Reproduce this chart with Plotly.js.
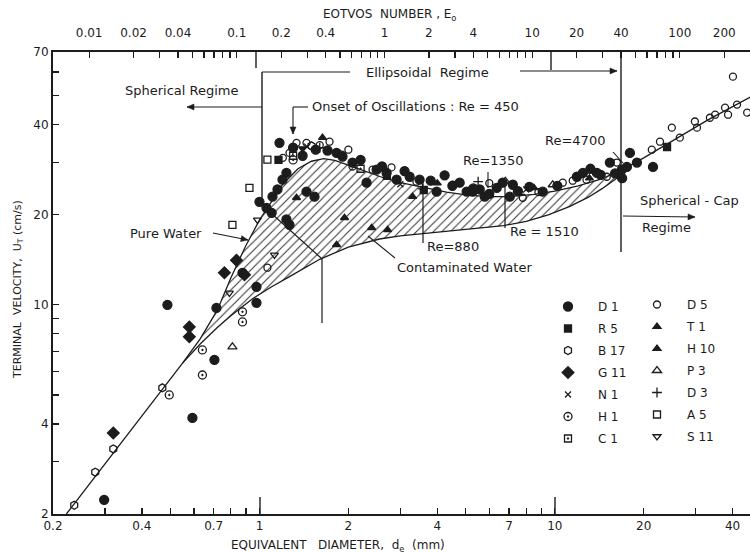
<!DOCTYPE html>
<html>
<head>
<meta charset="utf-8">
<script src="https://cdn.plot.ly/plotly-3.0.1.min.js"></script>
<style>html,body{margin:0;padding:0;background:#fff;}#chart{width:750px;height:553px;}</style>
</head>
<body>
<div id="chart"></div>
<script>
// ---------- DATA ----------
// Pure-water curve (upper boundary of hatched band), d_e in mm, U_T in cm/s
const pureD = [0.222,0.30,0.40,0.47,0.55,0.63,0.72,0.80,0.90,1.0,1.1,1.2,1.35,1.5,1.65,1.8,2.0,2.3,2.6,3.0,3.6,4.3,5.0,6.0,7.0,8.5,10,12,14.5,17.5,20,24,28,33,40,46];
const pureU = [2.0,2.94,4.25,5.22,6.4,7.7,9.6,12.3,15.8,19.2,22.3,25.3,28.5,30.2,30.8,30.4,29.3,27.8,26.7,25.6,24.6,23.8,23.3,23.0,23.0,23.4,24.0,25.0,26.4,28.8,31.0,34.5,37.8,41.5,46.0,49.5];
// Contaminated-water curve (lower boundary)
const contD = [0.55,0.63,0.72,0.80,0.95,1.1,1.26,1.45,1.6,2.0,2.55,3.0,3.6,4.5,5.5,6.7,8.0,9.5,11.2,13.0,14.5,16.2,17.5];
const contU = [6.4,7.4,8.4,9.2,10.5,11.5,12.4,13.4,14.2,15.6,16.6,17.0,17.3,17.7,18.0,18.4,19.0,20.0,21.3,22.9,24.5,26.5,28.8];

// Experimental points per source
const D1_d = [0.298,0.593,0.488,0.704,0.977,0.977,0.715,0.876,1.0,1.056,1.107,1.151,1.197,1.169,1.234,1.234,1.264,1.443,1.536,1.824,1.911,2.066,2.305,2.493,2.695,2.913,3.225,3.485,3.981,4.236,4.763,5.03,5.27,5.57,5.79,6.36,6.66,7.04,7.21,9.10,11.88,12.45,13.88,15.36,16.87,17.54,17.96,18.97,21.5,16.9,1.3,1.4,1.55,1.7,2.2,2.6,3.1,3.8,4.5,5.3,6.0,7.5,8.2,10.2,13.2,14.3,16.0,1.1];
const D1_u = [2.23,4.19,10.0,6.55,11.49,10.16,9.77,12.8,22.1,21.1,23.0,24.3,26.2,34.8,27.6,19.3,18.5,23.9,23.0,32.2,31.3,29.9,25.6,28.3,27.6,26.2,26.8,26.2,23.9,27.1,25.6,23.9,23.9,24.3,23.0,24.6,25.6,23.0,25.2,23.9,26.8,27.6,27.6,29.9,28.3,28.9,32.2,29.9,28.9,26.5,33.5,31.5,33.0,32.8,30.5,29.0,28.0,26.0,25.0,24.5,23.5,24.0,24.8,25.0,28.5,27.2,27.5,20.3];
const R5_d = [1.16,2.7,3.6,23.99];
const R5_u = [30.5,27.0,24.2,33.7];
const B17_d = [0.236,0.278,0.320,0.469,1.5];
const B17_u = [2.14,2.76,3.30,5.28,34.0];
const G11_d = [0.320,0.579,0.579,0.761,0.836,0.89];
const G11_u = [3.73,8.44,7.82,12.8,14.1,12.6];
const N1_d = [1.45,3.0,8.0];
const N1_u = [33.8,25.3,24.3];
const H1_d = [0.641,0.641,0.876,0.876,0.495,1.3];
const H1_u = [7.07,5.83,9.48,8.77,5.0,30.5];
const C1_d = [1.3,2.2];
const C1_u = [31.5,28.5];
const D5_d = [1.264,1.335,1.443,1.727,2.0,2.415,2.066,4.511,6.0,7.79,10.64,11.5,15.0,16.22,21.3,22.7,24.9,26.5,29.8,30.3,33.5,34.9,37.7,38.6,41.4,44.8,40.1,1.064,1.2,1.6,1.9,2.8,3.4,5.2,8.8,12.8];
const D5_u = [32.2,34.8,34.8,35.1,33.0,28.3,29.0,25.2,25.5,22.8,25.6,26.0,26.8,29.9,33.0,35.1,39.1,36.2,41.0,39.1,42.2,43.2,45.6,43.2,46.7,43.9,57.9,13.31,31.0,34.2,31.8,28.8,25.8,24.2,23.8,26.2];
const T1_d = [1.335,4.0,8.5,13.1];
const T1_u = [22.8,25.5,24.6,26.5];
const H10_d = [1.635,1.941,1.824,2.398,2.716,3.3];
const H10_u = [36.2,19.55,15.88,18.1,17.82,23.0];
const P3_d = [0.81,9.84,6.8];
const P3_u = [7.24,25.2,25.9];
const D3_d = [3.57,1.6,5.5];
const D3_u = [24.4,33.5,25.8];
const A5_d = [0.81,0.925,1.064];
const A5_u = [18.5,24.6,30.6];
const S11_d = [0.984,0.791,1.124,1.4];
const S11_u = [19.24,10.97,14.69,33.3];

// Tick labels
const xTickVals = [0.2,0.3,0.4,0.5,0.6,0.7,0.8,0.9,1,2,3,4,5,6,7,8,9,10,20,30,40];
const xLabelled = [0.2,0.4,0.7,1,2,4,7,10,20,40];
const yTickVals = [2,3,4,5,6,7,8,9,10,20,30,40,50,60,70];
const yLabelled = [2,4,10,20,40,70];
const eoTickVals = [0.01,0.02,0.03,0.04,0.05,0.06,0.07,0.08,0.09,0.1,0.2,0.3,0.4,0.5,0.6,0.7,0.8,0.9,1,2,3,4,5,6,7,8,9,10,20,30,40,50,60,70,80,90,100,200];
const eoLabelled = [0.01,0.02,0.04,0.1,0.2,0.4,1,2,4,10,20,40,100,200];

// ---------- STYLE / LAYOUT ----------
const INK = '#1c1c1c';
const FONT = 'DejaVu Sans, Liberation Sans, Arial, sans-serif';
const W = 750, H = 553, ML = 53, MR = 0, MT = 52, MB = 39;
const PW = W - ML - MR, PH = H - MT - MB;
const X = px => (px - ML) / PW;
const Y = py => (H - MB - py) / PH;
const lbl = (vals, shown) => vals.map(v => shown.includes(v) ? String(v) : '');

// Eotvos number: Eo = (d / 2.65 mm)^2 on the top axis
const dMin = 0.2, dMax = 45.8, dRef = 2.65;
const eoRange = [2 * Math.log10(dMin / dRef), 2 * Math.log10(dMax / dRef)];

// hatched band polygon from the two curves
const upperPart = pureD.map((d, i) => [d, pureU[i]]).filter(p => p[0] >= contD[0] && p[0] <= contD[contD.length - 1]).reverse();
const bandX = contD.concat(upperPart.map(p => p[0]));
const bandY = contU.concat(upperPart.map(p => p[1]));

const traces = [];
traces.push({x: bandX, y: bandY, type: 'scatter', mode: 'lines', fill: 'toself',
  line: {width: 0, color: 'rgba(0,0,0,0)'}, fillcolor: 'rgba(255,255,255,0)',
  fillpattern: {shape: '/', size: 6, solidity: 0.17, fgcolor: '#333', bgcolor: 'rgba(255,255,255,0)', fillmode: 'replace'},
  showlegend: false, hoverinfo: 'skip'});
traces.push({x: pureD, y: pureU, type: 'scatter', mode: 'lines', line: {color: INK, width: 1.3}, showlegend: false, hoverinfo: 'skip'});
traces.push({x: contD, y: contU, type: 'scatter', mode: 'lines', line: {color: INK, width: 1.3}, showlegend: false, hoverinfo: 'skip'});
traces.push({x: [], y: [], xaxis: 'x2', yaxis: 'y', type: 'scatter', mode: 'markers', showlegend: false});

function series(name, xs, ys, symbol, legend, size) {
  traces.push({x: xs, y: ys, type: 'scatter', mode: 'markers', name: name,
    legend: legend, legendgroup: name,
    marker: {symbol: symbol, size: size || 7, color: INK, line: {color: INK, width: 1.3}},
    hoverinfo: 'skip'});
}
series('D 1', D1_d, D1_u, 'circle', 'legend', 9);
series('R 5', R5_d, R5_u, 'square', 'legend', 7);
series('B 17', B17_d, B17_u, 'hexagon-open', 'legend', 8);
series('G 11', G11_d, G11_u, 'diamond', 'legend', 9);
series('N 1', N1_d, N1_u, 'x-thin-open', 'legend', 6);
series('H 1', H1_d, H1_u, 'circle-open-dot', 'legend', 8);
series('C 1', C1_d, C1_u, 'square-open-dot', 'legend', 7);
series('D 5', D5_d, D5_u, 'circle-open', 'legend2', 7);
series('T 1', T1_d, T1_u, 'triangle-up-dot', 'legend2', 7);
series('H 10', H10_d, H10_u, 'triangle-up', 'legend2', 7);
series('P 3', P3_d, P3_u, 'triangle-up-open', 'legend2', 8);
series('D 3', D3_d, D3_u, 'cross-thin-open', 'legend2', 7);
series('A 5', A5_d, A5_u, 'square-open', 'legend2', 7);
series('S 11', S11_d, S11_u, S11_d.map((d, i) => i < 3 ? 'triangle-down-open' : 'triangle-down'), 'legend2', 7);

// annotations & shapes (pixel helpers -> paper coords)
const ann = [];
const shapes = [];
function text(t, px, py, anchor, size) {
  ann.push({text: t, xref: 'paper', yref: 'paper', x: X(px), y: Y(py), xanchor: anchor || 'left', yanchor: 'middle',
    showarrow: false, font: {family: FONT, size: size || 13, color: INK}});
}
function line(x0, y0, x1, y1, w) {
  shapes.push({type: 'line', xref: 'paper', yref: 'paper', x0: X(x0), y0: Y(y0), x1: X(x1), y1: Y(y1),
    line: {color: INK, width: w || 1.2}});
}
function arrow(x0, y0, x1, y1) {
  line(x0, y0, x1, y1, 1.1);
  const len = Math.hypot(x1 - x0, y1 - y0), ux = (x1 - x0) / len, uy = (y1 - y0) / len;
  const bx = x1 - 7 * ux, by = y1 - 7 * uy, nx = -uy, ny = ux;
  const pts = [[x1, y1], [bx + 3 * nx, by + 3 * ny], [bx - 3 * nx, by - 3 * ny]];
  shapes.push({type: 'path', xref: 'paper', yref: 'paper',
    path: 'M' + pts.map(p => X(p[0]).toFixed(5) + ',' + Y(p[1]).toFixed(5)).join(' L') + ' Z',
    fillcolor: INK, line: {color: INK, width: 0.5}});
}
// regime boundaries
line(262, 72, 262, 205, 1.4);
line(262, 205, 321, 258, 1.2);
line(322, 258, 322, 323, 1.2);
line(262, 72, 350, 72, 1.1);
arrow(520, 71, 617, 71);
line(621, 52, 621, 252, 1.4);
arrow(262, 107, 187, 107);
line(308, 107, 293, 107, 1.1);
arrow(293, 107, 293, 134);
line(613, 152, 623, 163, 1.1);
line(488, 172, 488, 188, 1.1);
line(423, 177, 423, 243, 1.2);
line(505, 183, 505, 228, 1.2);
line(395, 258, 368, 236, 1.1);
arrow(213, 233, 248, 240);
arrow(623, 216, 695, 217);
// long ticks at d = 1 and 10
line(260, 514, 260, 497, 1.4);
line(555, 514, 555, 497, 1.4);
line(256, 52, 256, 68, 1.4);
line(551, 52, 551, 70, 1.4);

text('Spherical Regime', 182, 90, 'center');
text('Ellipsoidal  Regime', 427, 73, 'center');
text('Onset of Oscillations : Re = 450', 310, 106);
text('Re=4700', 543, 140);
text('Re=1350', 461, 160);
text('Re=880', 425, 246);
text('Re = 1510', 508, 231);
text('Contaminated Water', 395, 267);
text('Pure Water', 128, 233);
text('Spherical - Cap', 638, 200);
text('Regime', 640, 227);

// axis titles
text('EOTVOS  NUMBER , E<sub>o</sub>', 389, 15, 'center', 12);
text('EQUIVALENT   DIAMETER,  d<sub>e</sub>  (mm)', 338, 546, 'center', 12);
ann.push({text: 'TERMINAL  VELOCITY,  U<sub>T</sub> (cm/s)', xref: 'paper', yref: 'paper', x: X(18), y: Y(290),
  xanchor: 'center', yanchor: 'middle', textangle: -90, showarrow: false, font: {family: FONT, size: 11, color: INK}});

const axisCommon = {showgrid: false, zeroline: false, showline: true, linecolor: INK, linewidth: 2,
  ticks: 'inside', ticklen: 6, tickwidth: 1.2, tickcolor: INK, tickfont: {family: FONT, size: 12, color: INK}};

const legendCommon = {font: {family: FONT, size: 12, color: INK}, bgcolor: 'rgba(0,0,0,0)', borderwidth: 0,
  itemwidth: 50, traceorder: 'grouped', tracegroupgap: 3, xanchor: 'left', yanchor: 'top', itemclick: false};

const layout = {
  width: W, height: H, margin: {l: ML, r: MR, t: MT, b: MB, pad: 0},
  paper_bgcolor: '#fff', plot_bgcolor: '#fff',
  font: {family: FONT, color: INK},
  xaxis: Object.assign({}, axisCommon, {type: 'log', range: [Math.log10(dMin), Math.log10(dMax)],
    tickmode: 'array', tickvals: xTickVals, ticktext: lbl(xTickVals, xLabelled), automargin: false}),
  xaxis2: Object.assign({}, axisCommon, {type: 'log', overlaying: 'x', side: 'top', anchor: 'y',
    range: eoRange, tickmode: 'array', tickvals: eoTickVals, ticktext: lbl(eoTickVals, eoLabelled),
    ticklabelstandoff: 8, automargin: false}),
  yaxis: Object.assign({}, axisCommon, {type: 'log', range: [Math.log10(2), Math.log10(70)],
    tickmode: 'array', tickvals: yTickVals, ticktext: lbl(yTickVals, yLabelled), automargin: false}),
  legend: Object.assign({}, legendCommon, {x: X(538), y: Y(292)}),
  legend2: Object.assign({}, legendCommon, {x: X(627), y: Y(290)}),
  annotations: ann,
  shapes: shapes
};

Plotly.newPlot('chart', traces, layout, {staticPlot: true, displayModeBar: false});
</script>
</body>
</html>
